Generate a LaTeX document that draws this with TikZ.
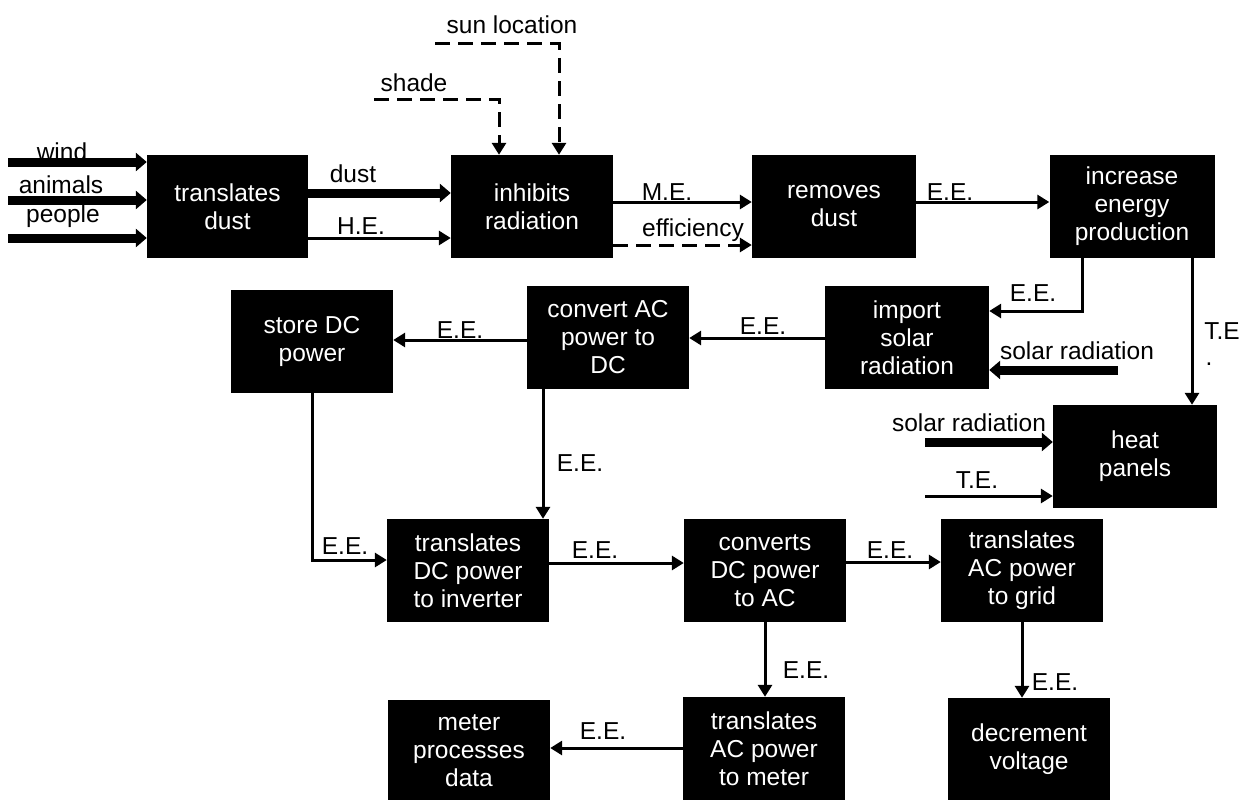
\documentclass[tikz,border=0pt]{standalone}
\usepackage{fontspec}
\setmainfont{Liberation Sans}
\usetikzlibrary{arrows.meta}
\tikzset{
    black-box/.style = {fill=black, text=white, rectangle, minimum width=162pt, minimum height=103pt, inner sep=0pt, align=center, font=\fontsize{24.5}{28}\selectfont},
    flow-label/.style = {inner sep=0pt, align=left, font=\fontsize{24.5}{28}\selectfont},
    thin-flow/.style = {line width=3pt, -{Triangle[length=12pt,width=14pt]}},
    thick-flow/.style = {line width=9pt, -{Triangle[length=11pt,width=18pt]}},
    signal-flow/.style = {line width=3pt, dash pattern=on 15pt off 8pt, -{Triangle[length=12pt,width=14pt]}},
}

\begin{document}
\begin{tikzpicture}[x=1pt, y=-1pt]
\path[use as bounding box, fill=white] (0,0) rectangle (1247,800);

\node[black-box, minimum width=161pt] (tdust) at (227.5,206.5) {translates\\dust};
\node[black-box] (inhibit) at (532,206.5) {inhibits\\radiation};
\node[black-box, minimum width=164pt] (removes) at (834,206.5) {removes\\dust};
\node[black-box, minimum width=165pt] (increase) at (1132,206.5) {increase\\energy\\production};
\node[black-box] (store) at (312,341.5) {store DC\\power};
\node[black-box] (convert) at (608,337.5) {convert AC\\power to\\DC};
\node[black-box, minimum width=164pt] (import) at (907,337.5) {import\\solar\\radiation};
\node[black-box, minimum width=164pt] (heat) at (1135,456.5) {heat\\panels};
\node[black-box] (tdc) at (468,570.5) {translates\\DC power\\to inverter};
\node[black-box] (converts) at (765,570.5) {converts\\DC power\\to AC};
\node[black-box] (grid) at (1022,570.5) {translates\\AC power\\to grid};
\node[black-box, minimum height=101pt] (meter) at (469,750.5) {meter\\processes\\data};
\node[black-box] (tmeter) at (764,748.5) {translates\\AC power\\to meter};
\node[black-box, minimum height=102pt] (decrement) at (1029,749) {decrement\\voltage};

\coordinate (wind-in) at (8,162);
\coordinate (animals-in) at (8,200);
\coordinate (people-in) at (8,238);
\coordinate (shade-in) at (374,99);
\coordinate (sun-in) at (435,44);
\coordinate (solar-in) at (1118,370);
\coordinate (solar-heat-in) at (925,442);
\coordinate (te-heat-in) at (925,496);

\node[flow-label] (l-wind) at (62,152) {wind};
\node[flow-label] (l-animals) at (61,185) {animals};
\node[flow-label] (l-people) at (63,216) {people};
\node[flow-label] (l-dust) at (353,174) {dust};
\node[flow-label] (l-he) at (361,226) {H.E.};
\node[flow-label] (l-shade) at (414,83) {shade};
\node[flow-label] (l-sun) at (512,25) {sun location};
\node[flow-label] (l-me) at (667,192) {M.E.};
\node[flow-label] (l-eff) at (693,230) {efficiency};
\node[flow-label] (l-ee1) at (950,192) {E.E.};
\node[flow-label] (l-ee2) at (1033,293) {E.E.};
\node[flow-label] (l-te1) at (1222,331) {T.E};
\node[flow-label] (l-te1dot) at (1209,364) {.};
\node[flow-label] (l-solar1) at (1077,351) {solar radiation};
\node[flow-label] (l-ee3) at (763,326) {E.E.};
\node[flow-label] (l-ee4) at (460,330) {E.E.};
\node[flow-label] (l-ee5) at (345,546) {E.E.};
\node[flow-label] (l-ee6) at (580,463) {E.E.};
\node[flow-label] (l-solar2) at (969,423) {solar radiation};
\node[flow-label] (l-te2) at (977,480) {T.E.};
\node[flow-label] (l-ee7) at (595,550) {E.E.};
\node[flow-label] (l-ee8) at (890,550) {E.E.};
\node[flow-label] (l-ee9) at (806,670) {E.E.};
\node[flow-label] (l-ee10) at (603,731) {E.E.};
\node[flow-label] (l-ee11) at (1055,682) {E.E.};

\draw[thick-flow] (wind-in) -- (tdust.west |- wind-in);
\draw[thick-flow] (animals-in) -- (tdust.west |- animals-in);
\draw[thick-flow] (people-in) -- (tdust.west |- people-in);
\draw[thick-flow] (tdust.east |- 0,193) -- (inhibit.west |- 0,193);
\draw[thin-flow] (tdust.east |- 0,238) -- (inhibit.west |- 0,238);
\draw[signal-flow] (shade-in) -| (499,0 |- inhibit.north);
\draw[signal-flow] (sun-in) -| (559,0 |- inhibit.north);
\draw[thin-flow] (inhibit.east |- 0,202) -- (removes.west |- 0,202);
\draw[signal-flow] (inhibit.east |- 0,245) -- (removes.west |- 0,245);
\draw[thin-flow] (removes.east |- 0,202) -- (increase.west |- 0,202);
\draw[thin-flow] (1082,0 |- increase.south) |- (import.east |- 0,311);
\draw[thin-flow] (1192,0 |- increase.south) -- (1192,0 |- heat.north);
\draw[thick-flow] (solar-in) -- (import.east |- solar-in);
\draw[thin-flow] (import.west |- 0,338) -- (convert.east |- 0,338);
\draw[thin-flow] (convert.west |- 0,340) -- (store.east |- 0,340);
\draw[thin-flow] (store.south) |- (tdc.west |- 0,560);
\draw[thin-flow] (543,0 |- convert.south) -- (543,0 |- tdc.north);
\draw[thick-flow] (solar-heat-in) -- (heat.west |- solar-heat-in);
\draw[thin-flow] (te-heat-in) -- (heat.west |- te-heat-in);
\draw[thin-flow] (tdc.east |- 0,563) -- (converts.west |- 0,563);
\draw[thin-flow] (converts.east |- 0,562) -- (grid.west |- 0,562);
\draw[thin-flow] (converts.south) -- (converts.south |- tmeter.north);
\draw[thin-flow] (tmeter.west |- 0,748) -- (meter.east |- 0,748);
\draw[thin-flow] (grid.south) -- (grid.south |- decrement.north);
\end{tikzpicture}
\end{document}
